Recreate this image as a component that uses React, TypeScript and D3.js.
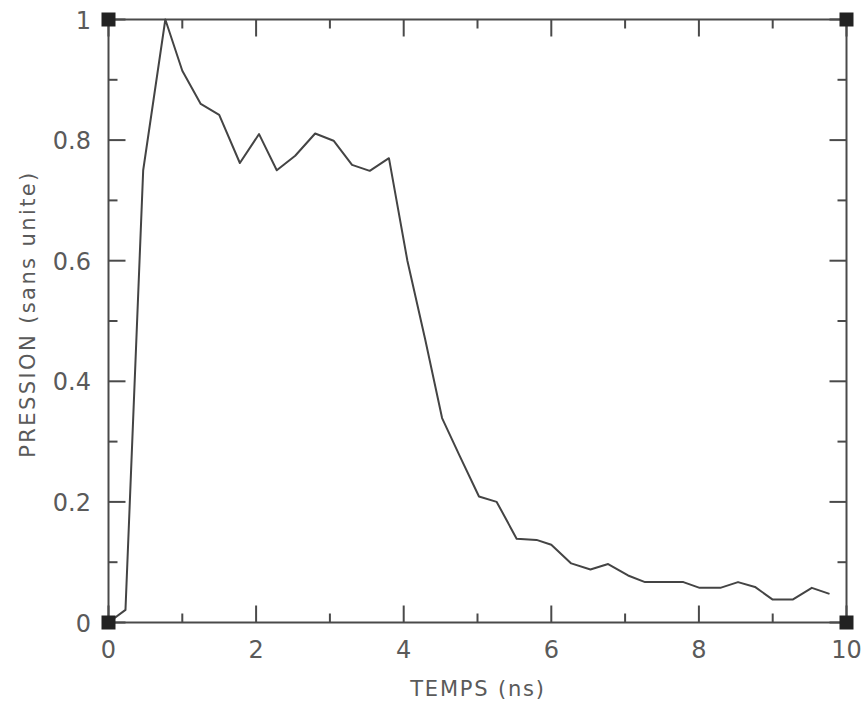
import React from "react";
import * as d3 from "d3";

const timeNs = [0, 0.23, 0.47, 0.77, 1.0, 1.25, 1.5, 1.78, 2.04, 2.28, 2.53, 2.8, 3.05, 3.3, 3.54, 3.8, 4.05, 4.29, 4.52, 4.76, 5.02, 5.26, 5.53, 5.8, 6.0, 6.27, 6.53, 6.77, 7.04, 7.27, 7.53, 7.79, 8.01, 8.29, 8.53, 8.76, 9.0, 9.27, 9.53, 9.77];
const pressure = [0, 0.021, 0.75, 1.0, 0.915, 0.86, 0.842, 0.762, 0.81, 0.75, 0.774, 0.811, 0.799, 0.759, 0.749, 0.77, 0.6, 0.47, 0.339, 0.276, 0.209, 0.2, 0.139, 0.137, 0.129, 0.098, 0.088, 0.097, 0.078, 0.067, 0.067, 0.067, 0.0575, 0.0575, 0.067, 0.059, 0.038, 0.038, 0.0575, 0.0475];

const xMajorTicks = [0, 2, 4, 6, 8, 10];
const xMinorTicks = [1, 3, 5, 7, 9];
const yMajorTicks = [0, 0.2, 0.4, 0.6, 0.8, 1];
const yMinorTicks = [0.1, 0.3, 0.5, 0.7, 0.9];
const xTickLabels = ["0", "2", "4", "6", "8", "10"];
const yTickLabels = ["0", "0.2", "0.4", "0.6", "0.8", "1"];

const W = 864;
const H = 711;
const L = 108.5;
const R = 846.5;
const T = 19.5;
const B = 622.5;

export default function App() {
  const x = d3.scaleLinear().domain([0, 10]).range([L, R]);
  const y = d3.scaleLinear().domain([0, 1]).range([B, T]);
  const pts: [number, number][] = timeNs.map((t, i) => [t, pressure[i]]);
  const line = d3
    .line<[number, number]>()
    .x((d) => x(d[0]))
    .y((d) => y(d[1]));

  const axisColor = "#4a4a4a";
  const textColor = "#5a5a5a";
  const major = 17;
  const minor = 9;
  const font = "DejaVu Sans, sans-serif";

  return (
    <svg
      width={W}
      height={H}
      style={{ position: "absolute", left: 0, top: 0, background: "#fff" }}
    >
      <rect x={0} y={0} width={W} height={H} fill="#fff" />
      {/* frame */}
      <rect x={L} y={T} width={R - L} height={B - T} fill="none" stroke={axisColor} strokeWidth={2} />
      {/* x ticks bottom & top */}
      {xMajorTicks.map((t) => (
        <g key={"xM" + t}>
          <line x1={x(t)} x2={x(t)} y1={B} y2={B - major} stroke={axisColor} strokeWidth={2} />
          <line x1={x(t)} x2={x(t)} y1={T} y2={T + major} stroke={axisColor} strokeWidth={2} />
        </g>
      ))}
      {xMinorTicks.map((t) => (
        <g key={"xm" + t}>
          <line x1={x(t)} x2={x(t)} y1={B} y2={B - minor} stroke={axisColor} strokeWidth={2} />
          <line x1={x(t)} x2={x(t)} y1={T} y2={T + minor} stroke={axisColor} strokeWidth={2} />
        </g>
      ))}
      {/* y ticks left & right */}
      {yMajorTicks.map((t) => (
        <g key={"yM" + t}>
          <line x1={L} x2={L + major} y1={y(t)} y2={y(t)} stroke={axisColor} strokeWidth={2} />
          <line x1={R} x2={R - major} y1={y(t)} y2={y(t)} stroke={axisColor} strokeWidth={2} />
        </g>
      ))}
      {yMinorTicks.map((t) => (
        <g key={"ym" + t}>
          <line x1={L} x2={L + minor} y1={y(t)} y2={y(t)} stroke={axisColor} strokeWidth={2} />
          <line x1={R} x2={R - minor} y1={y(t)} y2={y(t)} stroke={axisColor} strokeWidth={2} />
        </g>
      ))}
      {/* data line */}
      <path d={line(pts) || ""} fill="none" stroke="#444" strokeWidth={2} strokeLinejoin="round" />
      {/* corner squares */}
      {[
        [0, 0],
        [0, 1],
        [10, 1],
        [10, 0],
      ].map(([cx, cy], i) => (
        <rect key={"c" + i} x={x(cx) - 7} y={y(cy) - 7} width={14} height={14} fill="#222" />
      ))}
      {/* tick labels */}
      {xMajorTicks.map((t, i) => (
        <text
          key={"xl" + t}
          x={x(t)}
          y={658}
          textAnchor="middle"
          fontFamily={font}
          fontSize={24}
          fill={textColor}
        >
          {xTickLabels[i]}
        </text>
      ))}
      {yMajorTicks.map((t, i) => (
        <text
          key={"yl" + t}
          x={91}
          y={y(t) + 9}
          textAnchor="end"
          fontFamily={font}
          fontSize={24}
          fill={textColor}
        >
          {yTickLabels[i]}
        </text>
      ))}
      {/* axis titles */}
      <text
        x={478}
        y={696}
        textAnchor="middle"
        fontFamily={font}
        fontSize={21}
        letterSpacing={1.8}
        fill={textColor}
      >
        TEMPS (ns)
      </text>
      <text
        transform={`translate(35,314) rotate(-90)`}
        textAnchor="middle"
        fontFamily={font}
        fontSize={21}
        letterSpacing={2.4}
        fill={textColor}
      >
        PRESSION (sans unite)
      </text>
    </svg>
  );
}
